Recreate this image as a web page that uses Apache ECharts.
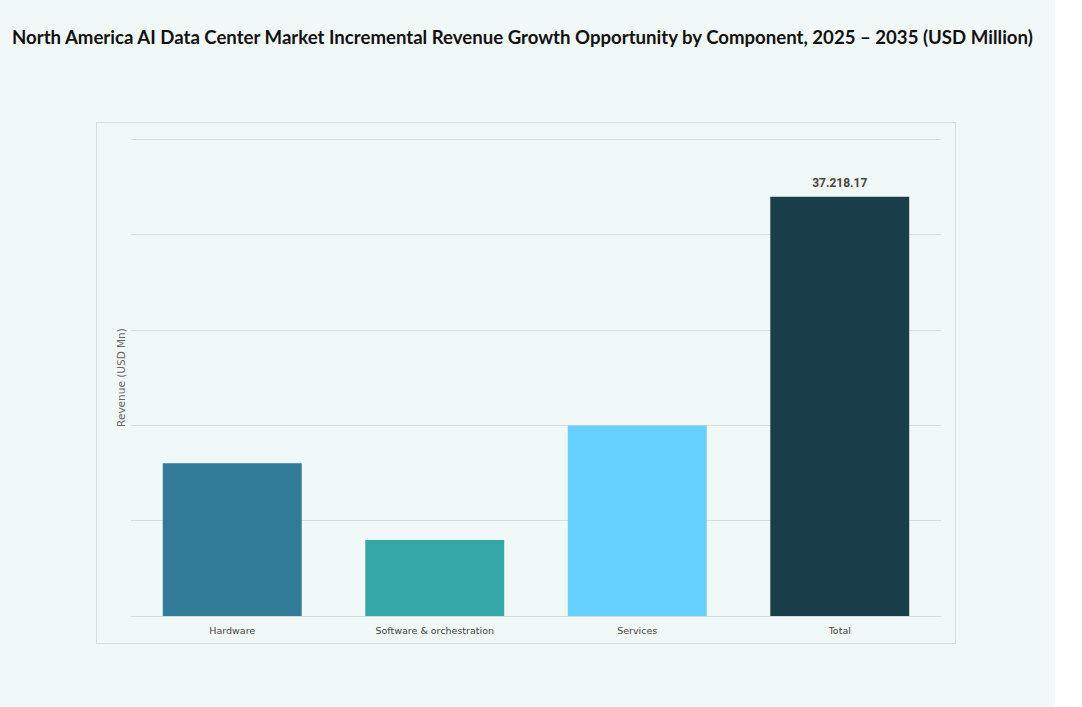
<!DOCTYPE html>
<html>
<head>
<meta charset="utf-8">
<script src="https://cdn.jsdelivr.net/npm/echarts@6/dist/echarts.min.js"></script>
<style>
  html, body { margin: 0; padding: 0; background: #ffffff; }
  #wrap { position: relative; width: 1055px; height: 707px; background: #f1f8f8; }
  #frame { position: absolute; left: 96px; top: 122px; width: 860px; height: 522px; border: 1px solid #d6dede; box-sizing: border-box; }
  #chart { position: absolute; left: 0; top: 0; width: 1055px; height: 707px; }
</style>
</head>
<body>
<div id="wrap">
  <div id="frame"></div>
  <div id="chart"></div>
</div>
<script>
var categories = ['Hardware', 'Software & orchestration', 'Services', 'Total'];
var values = [13555, 6745, 16918, 37218.17];
var barColors = ['#317b98', '#35a6a6', '#66d1ff', '#1a3e4a'];
var axisMax = 42350;
var axisStep = 8470;

var chart = echarts.init(document.getElementById('chart'), null, { renderer: 'svg' });
chart.setOption({
  animation: false,
  backgroundColor: 'transparent',
  title: {
    text: 'North America AI Data Center Market Incremental Revenue Growth Opportunity by Component, 2025 \u2013 2035 (USD Million)',
    left: 12,
    top: 27,
    padding: 0,
    textStyle: { fontFamily: 'Lato', fontWeight: 'bold', fontSize: 18.6, color: '#111111' }
  },
  grid: { left: 131, right: 114, top: 139, bottom: 91 },
  xAxis: {
    type: 'category',
    data: categories,
    axisLine: { lineStyle: { color: '#d6dede' } },
    axisTick: { show: false },
    axisLabel: { color: '#444444', fontSize: 9.5, fontFamily: 'DejaVu Sans', margin: 9 }
  },
  yAxis: {
    type: 'value',
    min: 0,
    max: axisMax,
    interval: axisStep,
    name: 'Revenue (USD Mn)',
    nameLocation: 'middle',
    nameGap: 5,
    nameTextStyle: { color: '#666666', fontSize: 10.5, fontFamily: 'DejaVu Sans' },
    axisLabel: { show: false },
    axisLine: { show: false },
    axisTick: { show: false },
    splitLine: { lineStyle: { color: '#d6dede', width: 1 } }
  },
  series: [{
    type: 'bar',
    barWidth: '68.6%',
    data: values.map(function(v, i) {
      return {
        value: v,
        itemStyle: { color: barColors[i] },
        label: {
          show: i === values.length - 1,
          position: 'top',
          distance: 8,
          color: '#444444',
          fontSize: 12,
          fontWeight: 'bold',
          fontFamily: 'Roboto',
          formatter: '37.218.17'
        }
      };
    })
  }]
});
</script>
</body>
</html>
